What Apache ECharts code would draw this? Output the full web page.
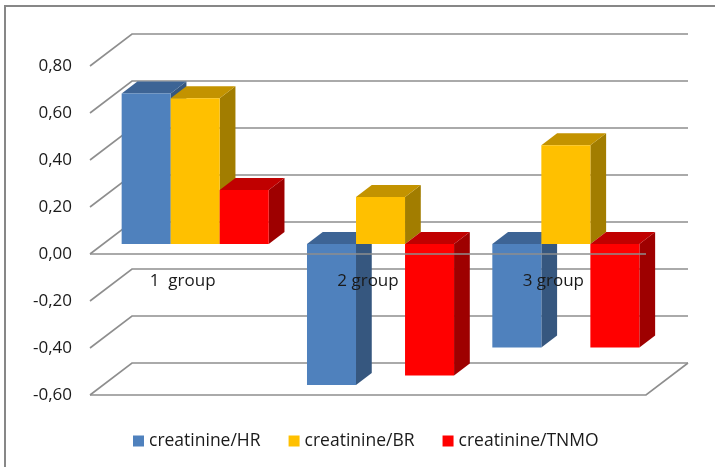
<!DOCTYPE html>
<html>
<head>
<meta charset="utf-8">
<script src="https://cdn.jsdelivr.net/npm/echarts@6/dist/echarts.min.js"></script>
<style>
  html, body { margin: 0; padding: 0; background: #ffffff; }
  #chart { width: 715px; height: 467px; }
</style>
</head>
<body>
<div id="chart"></div>
<script>
// ---- data ----
const groups = ['1  group', '2 group', '3 group'];
const seriesNames = ['creatinine/HR', 'creatinine/BR', 'creatinine/TNMO'];
const hrValues = [0.64, -0.60, -0.44];
const brValues = [0.62, 0.20, 0.42];
const tnmoValues = [0.23, -0.56, -0.44];
const yTicks = [-0.6, -0.4, -0.2, 0, 0.2, 0.4, 0.6, 0.8];

// ---- pseudo-3D look ----
const FONT = 'Open Sans';
const TEXT_COLOR = '#1a1a1a';
const DEPTH_X = 42;      // horizontal shift from front plane to back wall
const DEPTH_Y = -32;     // vertical shift from front plane to back wall
const BAR_FRONT = 0.3125; // depth position of the bar front faces (0 = front, 1 = back)
const BAR_DEPTH = 0.375;  // depth of each bar as a fraction of the whole depth
const BAR_GAP = 0.1;      // space before the first bar in a category
const BAR_W = 0.2645;     // bar width as a fraction of a category
const GRID_COLOR = '#8e8e8e';

const palettes = [
  { face: '#4f81bd', top: '#3d6495', side: '#36577f' },
  { face: '#ffc000', top: '#c39300', side: '#a27d00' },
  { face: '#ff0000', top: '#c00000', side: '#9e0000' }
];
const valueSets = [hrValues, brValues, tnmoValues];

function barRenderer(index) {
  const pal = palettes[index];
  return function (params, api) {
    const cat = api.value(0);
    const v = api.value(1);
    const catW = api.size([1, 0])[0];
    const base = api.coord([cat, 0]);
    const end = api.coord([cat, v]);
    const fx = DEPTH_X * BAR_FRONT, fy = DEPTH_Y * BAR_FRONT;
    const bx = DEPTH_X * BAR_DEPTH, by = DEPTH_Y * BAR_DEPTH;
    const bw = catW * BAR_W;
    const x0 = base[0] - catW / 2 + catW * BAR_GAP + index * bw + fx;
    const x1 = x0 + bw;
    const yHi = Math.min(base[1], end[1]) + fy;
    const yLo = Math.max(base[1], end[1]) + fy;
    return {
      type: 'group',
      children: [
        { type: 'polygon',
          shape: { points: [[x1, yHi], [x1 + bx, yHi + by], [x1 + bx, yLo + by], [x1, yLo]] },
          style: { fill: pal.side } },
        { type: 'polygon',
          shape: { points: [[x0, yHi], [x1, yHi], [x1 + bx, yHi + by], [x0 + bx, yHi + by]] },
          style: { fill: pal.top } },
        { type: 'rect',
          shape: { x: x0, y: yHi, width: bw, height: yLo - yHi },
          style: { fill: pal.face } }
      ]
    };
  };
}

// Side wall diagonals and back wall gridlines, plus the floor outline
function wallRenderer(params, api) {
  const v = api.value(0);
  const cs = params.coordSys;
  const y = api.coord([0, v])[1];
  const xl = cs.x, xr = cs.x + cs.width;
  const lineStyle = { stroke: GRID_COLOR, lineWidth: 1.6, fill: null };
  const children = [
    { type: 'polyline',
      shape: { points: [[xl, y], [xl + DEPTH_X, y + DEPTH_Y], [xr + DEPTH_X, y + DEPTH_Y]] },
      style: lineStyle }
  ];
  if (v === yTicks[0]) {
    children.push({ type: 'polyline',
      shape: { points: [[xl, y], [xr, y], [xr + DEPTH_X, y + DEPTH_Y]] },
      style: lineStyle });
  }
  return { type: 'group', children: children };
}

// Front edge of the zero plane, drawn over the bars
function zeroEdgeRenderer(params, api) {
  const cs = params.coordSys;
  const y = api.coord([0, api.value(0)])[1];
  return { type: 'line',
    shape: { x1: cs.x, y1: y, x2: cs.x + cs.width, y2: y },
    style: { stroke: GRID_COLOR, lineWidth: 1.6 } };
}

// Category names sit just below the front edge of the zero plane
function groupLabelRenderer(params, api) {
  const c = api.value(0);
  const p = api.coord([c, 0]);
  return { type: 'text',
    style: { text: groups[c], x: p[0], y: p[1] + 27, align: 'center', verticalAlign: 'middle',
      fill: TEXT_COLOR, font: '17px "' + FONT + '"' } };
}

const series = [
  { type: 'custom', name: 'walls', renderItem: wallRenderer, silent: true, z: 1,
    data: yTicks.map(t => [t]), encode: { y: 0 } }
];
valueSets.forEach((vals, i) => {
  series.push({
    type: 'custom',
    name: seriesNames[i],
    renderItem: barRenderer(i),
    itemStyle: { color: palettes[i].face },
    z: 2 + i,
    data: vals.map((v, c) => [c, v]),
    encode: { x: 0, y: 1 }
  });
});
series.push({ type: 'custom', name: 'zeroEdge', renderItem: zeroEdgeRenderer, silent: true, z: 10,
  data: [[0]], encode: { y: 0 } });
series.push({ type: 'custom', name: 'groupLabels', renderItem: groupLabelRenderer, silent: true, z: 11,
  data: groups.map((g, c) => [c, 0]), encode: { x: 0, y: 1 } });

const chart = echarts.init(document.getElementById('chart'), null, { renderer: 'canvas' });
chart.setOption({
  animation: false,
  backgroundColor: '#ffffff',
  textStyle: { fontFamily: FONT },
  grid: { left: 90, top: 66, width: 556, height: 329, containLabel: false },
  xAxis: {
    type: 'category',
    data: groups,
    axisLine: { show: false },
    axisTick: { show: false },
    splitLine: { show: false },
    axisLabel: { show: false }
  },
  yAxis: {
    type: 'value',
    min: -0.6, max: 0.8, interval: 0.2,
    axisLine: { show: false },
    axisTick: { show: false },
    splitLine: { show: false },
    axisLabel: {
      margin: 18, fontSize: 17, color: TEXT_COLOR, fontFamily: FONT,
      padding: [3, 0, 0, 0],
      formatter: v => v.toFixed(2).replace('.', ',')
    }
  },
  legend: {
    data: seriesNames,
    left: 133, top: 432, padding: 0,
    icon: 'rect', itemWidth: 11, itemHeight: 11, itemGap: 28,
    textStyle: { fontSize: 17.5, color: TEXT_COLOR, fontFamily: FONT }
  },
  graphic: [
    { type: 'polyline', silent: true,
      shape: { points: [[5, 467], [5, 6], [715, 6]] },
      style: { stroke: '#878787', lineWidth: 2, fill: null } }
  ],
  series: series
});
</script>
</body>
</html>
